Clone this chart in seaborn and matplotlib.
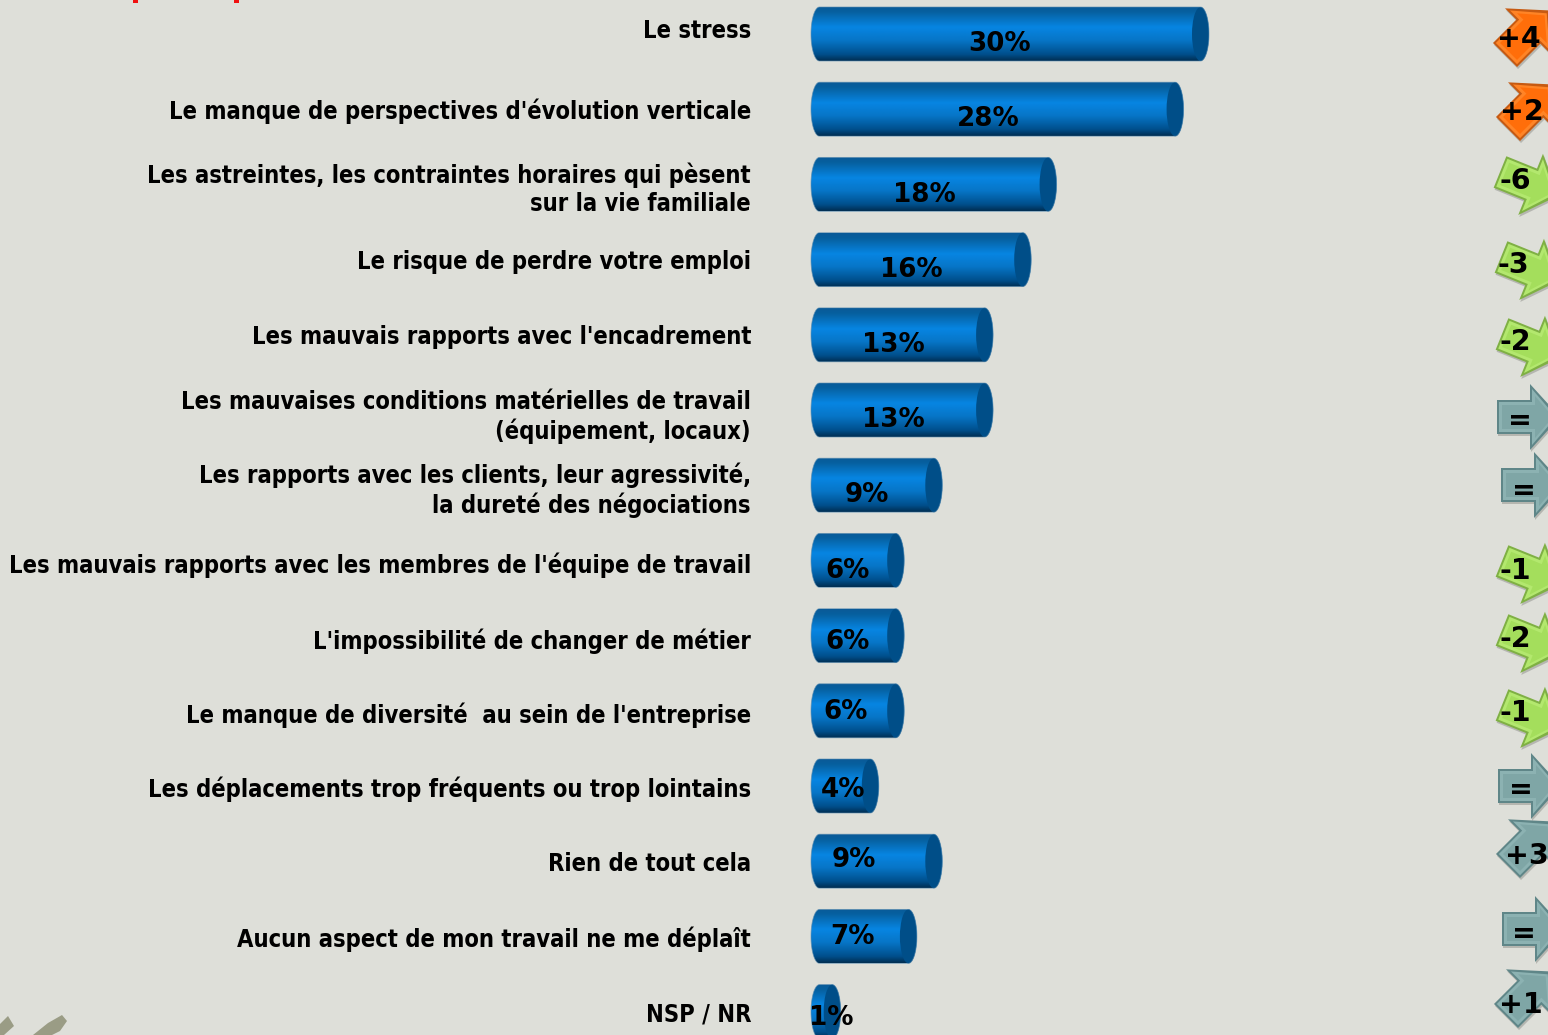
import numpy as np
import pandas as pd
import matplotlib
matplotlib.use("Agg")
import matplotlib.pyplot as plt
import seaborn as sns
from matplotlib.colors import LinearSegmentedColormap
from matplotlib.patches import Ellipse, Polygon, Rectangle
from matplotlib.path import Path
from matplotlib.transforms import Affine2D

# ---------- data ----------
labels = [
    "Le stress",
    "Le manque de perspectives d'évolution verticale",
    "Les astreintes, les contraintes horaires qui pèsent\nsur la vie familiale",
    "Le risque de perdre votre emploi",
    "Les mauvais rapports avec l'encadrement",
    "Les mauvaises conditions matérielles de travail\n(équipement, locaux)",
    "Les rapports avec les clients, leur agressivité,\nla dureté des négociations",
    "Les mauvais rapports avec les membres de l'équipe de travail",
    "L'impossibilité de changer de métier",
    "Le manque de diversité  au sein de l'entreprise",
    "Les déplacements trop fréquents ou trop lointains",
    "Rien de tout cela",
    "Aucun aspect de mon travail ne me déplaît",
    "NSP / NR",
]
values = [30, 28, 18, 16, 13, 13, 9, 6, 6, 6, 4, 9, 7, 1]
changes = ["+4", "+2", "-6", "-3", "-2", "=", "=", "-1", "-2", "-1", "=", "+3", "=", "+1"]

# ---------- layout (pixels) ----------
W, H = 1548, 1035
label_y = [31, 111, 189, 262, 337, 417, 490, 565, 641, 715, 789, 864, 939, 1015]
pct_xy = [(1000, 42), (988, 117), (924, 193), (911, 268), (893, 343), (893, 418), (867, 493),
          (848, 569), (848, 640), (846, 710), (843, 788), (854, 858), (853, 935), (831, 1016)]
arrow_tail = [(1505, 55, -45), (1508, 129, -45), (1500, 172, 22), (1501, 257, 22), (1502, 334, 22),
              (1497, 417, 0), (1501, 485, 0), (1502, 561, 22), (1502, 630, 22), (1502, 705, 22),
              (1498, 786, 0), (1508, 866, -45), (1502, 929, 0), (1506, 1016, -45)]
change_xy = [(1519, 37), (1522, 110), (1515, 179), (1513, 263), (1515, 340), (1520, 419), (1524, 489),
             (1515, 569), (1515, 637), (1515, 711), (1521, 788), (1527, 854), (1524, 932), (1521, 1003)]
BG = "#DEDFD9"
PX_PER_PCT = 12.7
X0_PX = 819.5
CAP = 8.5 / PX_PER_PCT
BAR_H = 54 / 75.2

sns.set_theme(style="white")
fig = plt.figure(figsize=(W / 100, H / 100), dpi=100, facecolor=BG)
ax = fig.add_axes([0, 0, 1, 1])
ax.set_facecolor(BG)
df = pd.DataFrame({"label": labels, "value": values})
sns.barplot(data=df, x="value", y="label", orient="h", width=BAR_H, color="#0777CC",
            saturation=1, ax=ax)
xlim = (-X0_PX / PX_PER_PCT, (W - X0_PX) / PX_PER_PCT)
ylim = ((H - 34) / 75.2, -34 / 75.2)

grad = LinearSegmentedColormap.from_list(
    "cyl", [(0, "#0A5A98"), (0.10, "#06609F"), (0.38, "#0785E2"), (0.62, "#0776C8"),
            (0.88, "#004F8C"), (1, "#002E52")])
g = np.linspace(0, 1, 128)[:, None]
t = np.linspace(-np.pi / 2, np.pi / 2, 40)
for p in list(ax.patches):
    v, yc = p.get_width(), p.get_y() + p.get_height() / 2
    h = p.get_height() / 2
    right = np.c_[v + CAP * np.cos(t), yc + h * np.sin(t)]
    left = np.c_[-CAP * np.cos(t[::-1]), yc + h * np.sin(t[::-1])]
    outline = np.r_[right, left, right[:1]]
    p.set_visible(False)
    im = ax.imshow(g, cmap=grad, aspect="auto", zorder=3,
                   extent=(-CAP, v + CAP, yc + h, yc - h), interpolation="bilinear")
    im.set_clip_path(Path(outline), transform=ax.transData)
    ax.add_patch(Ellipse((v, yc), 2 * CAP, 2 * h, facecolor="#004E88", edgecolor="none", zorder=4))
    ax.add_patch(Polygon(outline, closed=True, fill=False, edgecolor="#5C8DB0", lw=0.6, alpha=.7, zorder=4))
ax.set_xlim(*xlim)
ax.set_ylim(*ylim)
ax.axis("off")

px = Affine2D().scale(1, -1).translate(0, H)  # image pixels -> display

# category labels
for s, y in zip(labels, label_y):
    ax.text(751, y, s, transform=px, ha="right", va="center", family="DejaVu Sans",
            stretch="condensed", fontweight="bold", fontsize=17.0, color="black",
            linespacing=1.22, zorder=6)
# value labels
for v, (x, y) in zip(values, pct_xy):
    ax.text(x, y + 2, f"{v}%", transform=px, ha="center", va="center", family="DejaVu Sans",
            fontweight="bold", fontsize=18.8, color="black", zorder=7)

# trend arrows
shape = np.array([(0, -17), (33, -17), (33, -33), (63, 0), (33, 33), (33, 17), (0, 17)], float)
inner = np.array([(2, -15), (35, -15), (35, -28), (59, 0), (35, 28), (35, 15), (2, 15)], float)
core = np.array([(5, -12), (38, -12), (38, -21), (56, 0), (38, 21), (38, 12), (5, 12)], float)
styles = {"+": ("#FF6E0A", "#C65A12", "#FF8426"), "-": ("#A4DE5C", "#7FB044", "#B3E86E"),
          "=": ("#7FA6A6", "#5F8688", "#8CB2B2")}
for c, (x, y, a), (tx, ty) in zip(changes, arrow_tail, change_xy):
    key = "=" if c in ("=", "+3", "+1") else c[0]
    face, edge, light = styles[key]
    tr = Affine2D().rotate_deg(a).translate(x, y) + px
    sh = Affine2D().rotate_deg(a).translate(x + 1, y + 2) + px
    ax.add_patch(Polygon(shape, transform=sh, facecolor="#9A9B96", edgecolor="none", alpha=.6, zorder=8))
    ax.add_patch(Polygon(shape, transform=tr, facecolor=edge, edgecolor="none", zorder=9))
    ax.add_patch(Polygon(inner, transform=tr, facecolor=light, edgecolor="none", zorder=10))
    ax.add_patch(Polygon(core, transform=tr, facecolor=face, edgecolor="none", zorder=10))
    ax.text(tx, ty + 2, c, transform=px, ha="center", va="center", family="DejaVu Sans",
            fontweight="bold", fontsize=20.5, color="black", zorder=11)

# cut-off title remnants and corner decoration
for x0 in (133, 234):
    ax.add_patch(Rectangle((x0, 0), 5, 3, transform=px, facecolor="#F01010", edgecolor="none", zorder=5))
for pts in ([(0, 1024), (8, 1016), (14, 1026), (4, 1035), (0, 1035)],
            [(33, 1035), (48, 1023), (62, 1015), (67, 1021), (60, 1031), (52, 1035)]):
    ax.add_patch(Polygon(pts, transform=px, facecolor="#9A9C85", edgecolor="none", zorder=5))

fig.savefig("out.png", dpi=100, facecolor=BG)
